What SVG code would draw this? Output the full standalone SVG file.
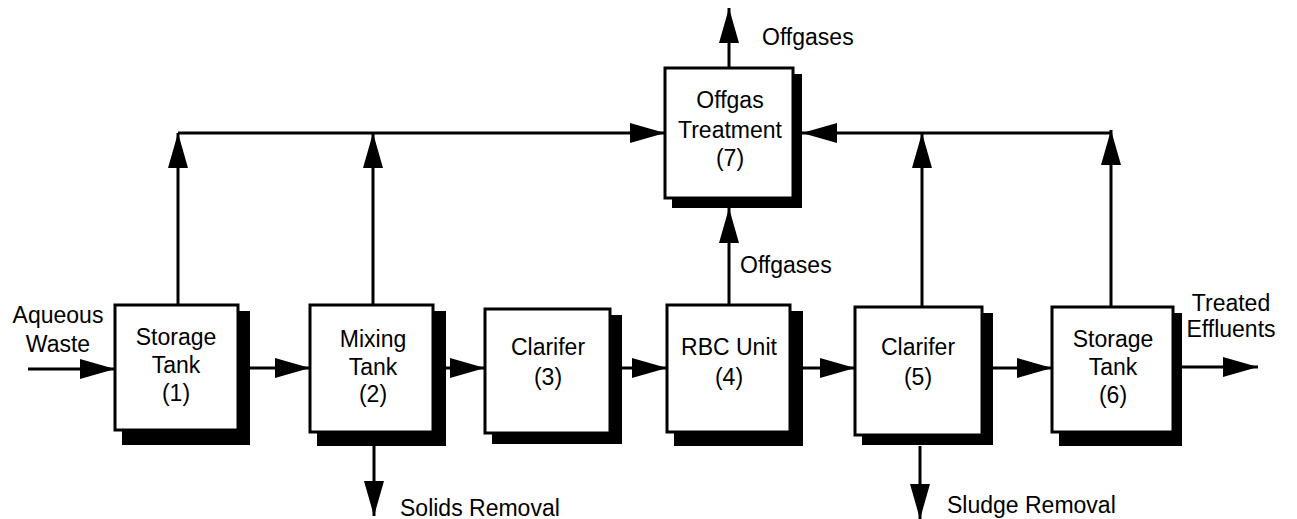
<svg xmlns="http://www.w3.org/2000/svg" width="1297" height="519" viewBox="0 0 1297 519">
<style>
.box{fill:#fff;stroke:#000;stroke-width:3}
.sh{fill:#000}
.t{font-family:"Liberation Sans",Arial,sans-serif;font-size:23px;fill:#000}
.c{text-anchor:middle}
.ln{fill:none;stroke:#000;stroke-width:3}
</style>
<defs>
<marker id="ah" markerUnits="userSpaceOnUse" viewBox="0 0 35 20" refX="35" refY="10" markerWidth="35" markerHeight="20" orient="auto">
<path d="M0,0 L35,10 L0,20 z" fill="#000"/>
</marker>
</defs>
<rect width="1297" height="519" fill="#fff"/>
<g id="connectors">
<path class="ln" d="M28,369 H115" marker-end="url(#ah)"/>
<path class="ln" d="M250,368 H310" marker-end="url(#ah)"/>
<path class="ln" d="M446,368 H485" marker-end="url(#ah)"/>
<path class="ln" d="M622,368 H667" marker-end="url(#ah)"/>
<path class="ln" d="M803,368 H855" marker-end="url(#ah)"/>
<path class="ln" d="M993,368 H1052" marker-end="url(#ah)"/>
<path class="ln" d="M1182,367 H1258" marker-end="url(#ah)"/>
<path class="ln" d="M178,305 V133" marker-end="url(#ah)"/>
<path class="ln" d="M373,305 V133" marker-end="url(#ah)"/>
<path class="ln" d="M178,133 H665" marker-end="url(#ah)"/>
<path class="ln" d="M922,307 V133" marker-end="url(#ah)"/>
<path class="ln" d="M1111,307 V130" marker-end="url(#ah)"/>
<path class="ln" d="M1111,133 H802" marker-end="url(#ah)"/>
<path class="ln" d="M729,305 V208" marker-end="url(#ah)"/>
<path class="ln" d="M729,68 V8" marker-end="url(#ah)"/>
<path class="ln" d="M374,446 V516" marker-end="url(#ah)"/>
<path class="ln" d="M920,446 V519" marker-end="url(#ah)"/>
</g>
<g id="labels">
<text class="t c" x="58" y="323">Aqueous</text>
<text class="t c" x="58" y="352">Waste</text>
<text class="t c" x="1231" y="311">Treated</text>
<text class="t c" x="1231" y="337">Effluents</text>
<text class="t" x="762" y="45">Offgases</text>
<text class="t" x="740" y="273">Offgases</text>
<text class="t" x="400" y="516">Solids Removal</text>
<text class="t" x="947" y="513">Sludge Removal</text>
</g>
<g id="node1">
<rect class="sh" x="122" y="311" width="128" height="134"/>
<rect class="box" x="115" y="305" width="123" height="125"/>
<text class="t c" x="176" y="345">Storage</text>
<text class="t c" x="176" y="373">Tank</text>
<text class="t c" x="176" y="401">(1)</text>
</g>
<g id="node2">
<rect class="sh" x="317" y="311" width="129" height="135"/>
<rect class="box" x="310" y="305" width="123" height="127"/>
<text class="t c" x="373" y="347">Mixing</text>
<text class="t c" x="373" y="375">Tank</text>
<text class="t c" x="373" y="402">(2)</text>
</g>
<g id="node3">
<rect class="sh" x="492" y="315" width="130" height="129"/>
<rect class="box" x="485" y="309" width="125" height="124"/>
<text class="t c" x="548" y="355">Clarifer</text>
<text class="t c" x="548" y="385">(3)</text>
</g>
<g id="node4">
<rect class="sh" x="674" y="311" width="129" height="135"/>
<rect class="box" x="667" y="305" width="123" height="127"/>
<text class="t c" x="729" y="355">RBC Unit</text>
<text class="t c" x="729" y="385">(4)</text>
</g>
<g id="node5">
<rect class="sh" x="862" y="313" width="131" height="132"/>
<rect class="box" x="855" y="307" width="127" height="128"/>
<text class="t c" x="918" y="355">Clarifer</text>
<text class="t c" x="918" y="385">(5)</text>
</g>
<g id="node6">
<rect class="sh" x="1059" y="313" width="123" height="133"/>
<rect class="box" x="1052" y="307" width="121" height="125"/>
<text class="t c" x="1113" y="347">Storage</text>
<text class="t c" x="1113" y="375">Tank</text>
<text class="t c" x="1113" y="403">(6)</text>
</g>
<g id="node7">
<rect class="sh" x="672" y="74" width="130" height="134"/>
<rect class="box" x="665" y="68" width="128" height="130"/>
<text class="t c" x="730" y="108">Offgas</text>
<text class="t c" x="730" y="138">Treatment</text>
<text class="t c" x="730" y="166">(7)</text>
</g>
</svg>
